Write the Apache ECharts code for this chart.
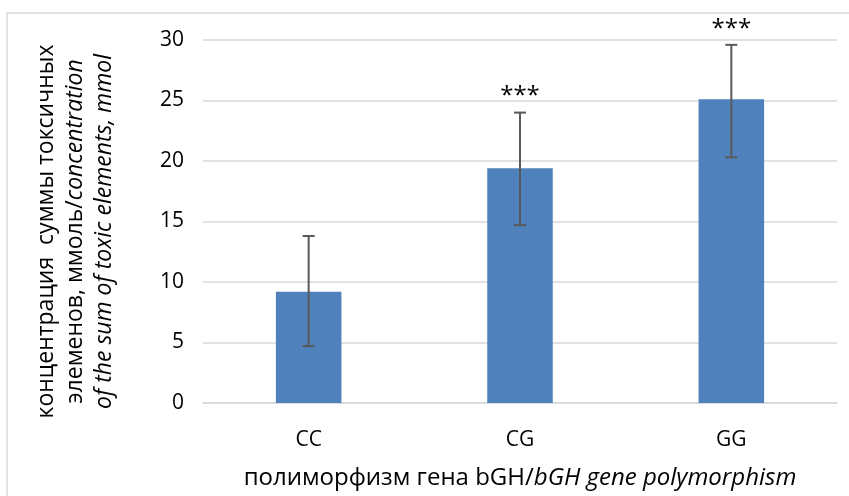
<!DOCTYPE html>
<html>
<head>
<meta charset="utf-8">
<script src="https://cdn.jsdelivr.net/npm/echarts@6/dist/echarts.min.js"></script>
<style>html,body{margin:0;padding:0;background:#fff}#c{width:849px;height:496px}</style>
</head>
<body>
<div id="c"></div>
<script>
const categories = ['CC', 'CG', 'GG'];
const means = [9.2, 19.4, 25.1];
const errLow = [4.7, 14.7, 20.3];
const errHigh = [13.8, 24.0, 29.6];
const stars = ['', '***', '***'];
const yTicks = [0, 5, 10, 15, 20, 25, 30];

const FONT = '"Open Sans", "Noto Sans", sans-serif';
const chart = echarts.init(document.getElementById('c'), null, {renderer: 'canvas'});

const errData = categories.map((c, i) => [i, errLow[i], errHigh[i], stars[i]]);

chart.setOption({
  backgroundColor: '#fff',
  animation: false,
  graphic: [{
    type: 'rect', shape: {x: 7, y: 13, width: 900, height: 600},
    style: {fill: 'none', stroke: '#d9d9d9', lineWidth: 1.5}, z: -1, silent: true
  }],
  grid: {left: 203, right: 12, top: 40, bottom: 93},
  xAxis: {
    type: 'category', data: categories,
    axisTick: {show: false},
    axisLine: {lineStyle: {color: '#d9d9d9', width: 1.5}},
    axisLabel: {color: '#000', fontFamily: FONT, fontSize: 21, margin: 27},
    name: '{n|полиморфизм гена bGH/}{i|bGH gene polymorphism}',
    nameLocation: 'middle', nameGap: 63,
    nameTextStyle: {
      rich: {
        n: {fontFamily: FONT, fontSize: 24, color: '#000'},
        i: {fontFamily: FONT, fontSize: 24, color: '#000', fontStyle: 'italic'}
      }
    }
  },
  yAxis: {
    type: 'value', min: 0, max: 30, interval: 5,
    axisLine: {show: false}, axisTick: {show: false},
    splitLine: {lineStyle: {color: '#d9d9d9', width: 1.5}},
    axisLabel: {color: '#000', fontFamily: FONT, fontSize: 21, margin: 19,
      formatter: v => yTicks.includes(v) ? String(v) : ''},
    name: '{n|концентрация  суммы токсичных}\n{n|элеменов, ммоль/}{i|concentration}\n{i|of the sum of toxic elements, mmol}',
    nameLocation: 'middle', nameRotate: 90, nameGap: 84,
    nameTextStyle: {
      lineHeight: 29,
      padding: [0, 20, 0, 0],
      rich: {
        n: {fontFamily: FONT, fontSize: 23, color: '#000', lineHeight: 29},
        i: {fontFamily: FONT, fontSize: 23, color: '#000', fontStyle: 'italic', lineHeight: 29}
      }
    }
  },
  series: [{
    type: 'bar', data: means, barWidth: '31%',
    itemStyle: {color: '#4f81bd'}
  }, {
    type: 'custom', data: errData, z: 10,
    renderItem: function (params, api) {
      const x = api.value(0);
      const lo = api.coord([x, api.value(1)]);
      const hi = api.coord([x, api.value(2)]);
      const half = 6;
      const st = {stroke: '#595959', lineWidth: 2};
      const children = [
        {type: 'line', shape: {x1: lo[0], y1: lo[1], x2: hi[0], y2: hi[1]}, style: st},
        {type: 'line', shape: {x1: lo[0] - half, y1: lo[1], x2: lo[0] + half, y2: lo[1]}, style: st},
        {type: 'line', shape: {x1: hi[0] - half, y1: hi[1], x2: hi[0] + half, y2: hi[1]}, style: st}
      ];
      const s = api.value(3);
      if (s) {
        children.push({type: 'text', style: {
          text: s, x: hi[0], y: hi[1] - 4, align: 'center', verticalAlign: 'bottom',
          fontFamily: FONT, fontSize: 24, fill: '#000'
        }});
      }
      return {type: 'group', children: children};
    }
  }]
});
</script>
</body>
</html>
